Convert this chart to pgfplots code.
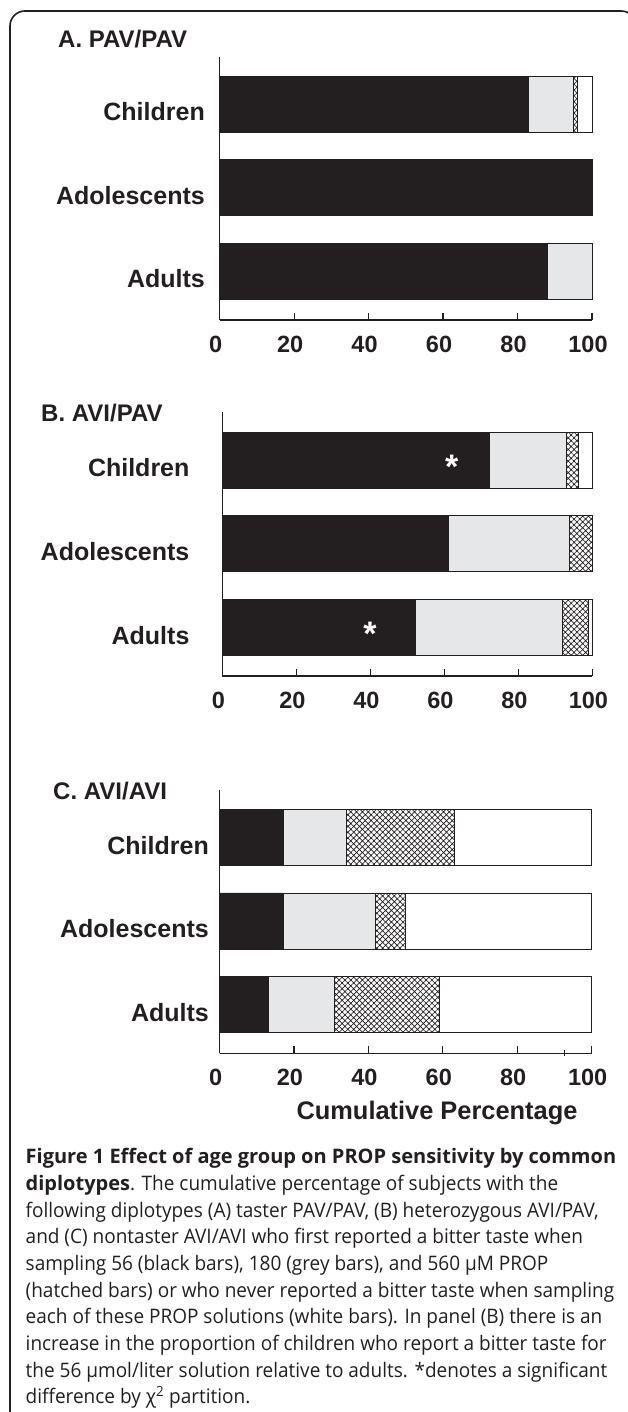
\documentclass[border=0pt]{standalone}
\usepackage{fontspec}
\usepackage{pgfplots}
\pgfplotsset{compat=1.18}
\usetikzlibrary{patterns.meta}
\newfontfamily\chartfont{Liberation Sans}
\newfontfamily\capfont{Open Sans}[FakeStretch=0.95, BoldFeatures={FakeStretch=1.0}]
\definecolor{ink}{HTML}{231F20}
\definecolor{lgrey}{HTML}{E6E7E8}

\pgfplotsset{
 panel/.style={
  scale only axis, anchor=south west,
  xbar stacked, bar width=0.67,
  xmin=0, xmax=100,
  axis x line=bottom, axis y line=left,
  axis line style={-, ink, line width=1.1pt},
  xtick={0,20,40,60,80,100},
  xticklabels={0,20,40,60,80,100},
  tick align=inside,
  major tick length=7pt,
  x tick style={ink, line width=1.1pt},
  y tick style={draw=none},
  ytick={0,1,2},
  yticklabels={Adults,Adolescents,Children},
  /pgf/number format/assume math mode=true,
  xticklabel style={font=\chartfont\bfseries\fontsize{23.5}{24}\selectfont, text=ink, inner sep=0pt, anchor=north, yshift=-16pt, xshift=-4pt},
  yticklabel style={font=\chartfont\bfseries\fontsize{25}{26}\selectfont, text=ink, inner sep=0pt, anchor=east, yshift=-8pt},
  clip=false,
 },
 blk/.style={fill=ink, draw=ink, line width=0.8pt},
 gry/.style={fill=lgrey, draw=ink, line width=0.8pt},
 hat/.style={draw=ink, line width=0.8pt, pattern={Hatch[angle=45,distance=4.1pt,line width=0.7pt]}, pattern color=ink},
 wht/.style={fill=white, draw=ink, line width=0.8pt},
}
\newcommand{\titlefont}{\chartfont\bfseries\fontsize{24}{26}\selectfont}
\newcommand{\capsize}{\capfont\fontsize{20}{26.65}\selectfont}

\begin{document}
\begin{tikzpicture}[x=1pt,y=1pt]
\useasboundingbox (0,0) rectangle (627,1412);
\draw[ink, line width=1.6pt, rounded corners=15pt] (10,-30) rectangle (636,1401);

% Panel A
\node[anchor=base west, inner sep=0pt, text=ink, font=\titlefont] at (58,1364) {A. PAV/PAV};
\begin{axis}[panel, at={(219.6pt,1092pt)}, width=372.4pt, height=263pt,
  ymin=-0.587, ymax=2.563, yticklabel style={xshift=-14.6pt}]
\addplot[blk] coordinates {(88.1,0) (100,1) (83.0,2)};
\addplot[gry] coordinates {(11.9,0) (0,1) (11.9,2)};
\addplot[hat] coordinates {(0,0) (0,1) (1.2,2)};
\addplot[wht] coordinates {(0,0) (0,1) (3.9,2)};
\end{axis}

% Panel B
\node[anchor=base west, inner sep=0pt, text=ink, font=\titlefont] at (41,990.3) {B. AVI/PAV};
\begin{axis}[panel, at={(222.4pt,736pt)}, width=370pt, height=264.3pt,
  ymin=-0.583, ymax=2.578, yticklabel style={xshift=-32.8pt},
  yticklabels={Adults,Adolescents\hspace{9.6pt},Children\hspace{2.4pt}}]
\addplot[blk] coordinates {(52.1,0) (61.2,1) (72.1,2)};
\addplot[gry] coordinates {(39.8,0) (32.6,1) (20.8,2)};
\addplot[hat] coordinates {(7.1,0) (6.2,1) (3.2,2)};
\addplot[wht] coordinates {(1.0,0) (0,1) (3.9,2)};
\end{axis}
% significance asterisks (annotations on the black bars)
\node[anchor=base, inner sep=0pt, text=white, font=\chartfont\bfseries\fontsize{34}{34}\selectfont] at (451.8,933) {*};
\node[anchor=base, inner sep=0pt, text=white, font=\chartfont\bfseries\fontsize{34}{34}\selectfont] at (370,766) {*};

% Panel C
\node[anchor=base west, inner sep=0pt, text=ink, font=\titlefont] at (53,612.7) {C. AVI/AVI};
\begin{axis}[panel, at={(219.6pt,358.7pt)}, width=372pt, height=263.3pt,
  ymin=-0.58, ymax=2.565, yticklabel style={xshift=-10.6pt},
  extra x ticks={92.6}, extra x tick labels={},
  extra x tick style={tick align=center, major tick length=6pt}]
\addplot[blk] coordinates {(13.2,0) (17.1,1) (17.1,2)};
\addplot[gry] coordinates {(17.7,0) (24.8,1) (16.9,2)};
\addplot[hat] coordinates {(28.1,0) (8.0,1) (29.0,2)};
\addplot[wht] coordinates {(41.0,0) (50.1,1) (37.0,2)};
\end{axis}
\node[anchor=base, inner sep=0pt, text=ink, font=\chartfont\bfseries\fontsize{25.4}{26}\selectfont] at (437,292) {Cumulative Percentage};

% Caption
\begin{scope}[every node/.style={anchor=base west, inner sep=0pt, text=ink, font=\capsize}]
\node at (25.5,248) {\textbf{Figure 1 Effect of age group on PROP sensitivity by common}};
\node at (25.5,221.35) {\textbf{diplotypes}. The cumulative percentage of subjects with the};
\node at (25.5,194.7) {following diplotypes (A) taster PAV/PAV, (B) heterozygous AVI/PAV,};
\node at (25.5,168.05) {and (C) nontaster AVI/AVI who first reported a bitter taste when};
\node at (25.5,141.4) {sampling 56 (black bars), 180 (grey bars), and 560 µM PROP};
\node at (25.5,114.75) {(hatched bars) or who never reported a bitter taste when sampling};
\node at (25.5,88.1) {each of these PROP solutions (white bars). In panel (B) there is an};
\node at (25.5,61.45) {increase in the proportion of children who report a bitter taste for};
\node at (25.5,34.8) {the 56 µmol/liter solution relative to adults. *denotes a significant};
\node at (25.5,8.15) {difference by χ\textsuperscript{2} partition.};
\end{scope}
\end{tikzpicture}
\end{document}
